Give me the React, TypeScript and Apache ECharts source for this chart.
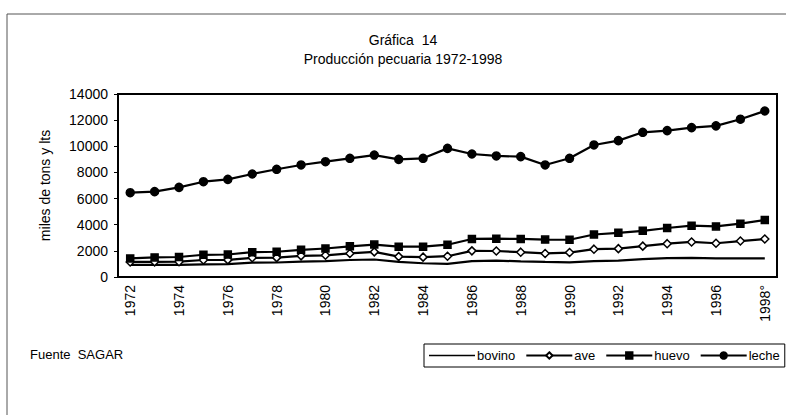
import React, { useEffect, useRef } from "react";
import * as echarts from "echarts";

const years = ["1972","1973","1974","1975","1976","1977","1978","1979","1980","1981","1982","1983","1984","1985","1986","1987","1988","1989","1990","1991","1992","1993","1994","1995","1996","1997","1998°"];
const bovino = [920, 920, 930, 970, 990, 1100, 1110, 1170, 1220, 1300, 1340, 1150, 1050, 1010, 1220, 1260, 1190, 1150, 1120, 1220, 1260, 1360, 1450, 1460, 1430, 1430, 1430];
const ave = [1150, 1160, 1170, 1300, 1310, 1470, 1480, 1620, 1660, 1800, 1920, 1560, 1520, 1590, 2000, 1990, 1900, 1800, 1870, 2130, 2170, 2360, 2550, 2680, 2580, 2750, 2910];
const huevo = [1420, 1500, 1530, 1700, 1720, 1900, 1930, 2080, 2180, 2350, 2480, 2320, 2320, 2470, 2910, 2930, 2910, 2860, 2850, 3250, 3380, 3530, 3750, 3930, 3870, 4080, 4360];
const leche = [6450, 6530, 6860, 7290, 7470, 7880, 8240, 8570, 8820, 9080, 9330, 9000, 9080, 9840, 9410, 9260, 9210, 8570, 9080, 10100, 10430, 11070, 11200, 11430, 11560, 12070, 12700];
const yTicks = { min: 0, max: 14000, interval: 2000 };
const titleLines = ["Gráfica  14", "Producción pecuaria 1972-1998"];
const yName = "miles de tons y lts";
const source = "Fuente  SAGAR";

const FONT = "'Liberation Sans', Arial, sans-serif";
const LINE_ICON = "path://M0,0 M46,8 M0,3.2 L46,3.2 L46,4.8 L0,4.8 Z";

export default function App() {
  const ref = useRef<HTMLDivElement>(null);
  useEffect(() => {
    if (!ref.current) return;
    const chart = echarts.init(ref.current, null, { renderer: "svg" });
    const mk = (name: string, data: number[], symbol: string, size: number, fill: string) => ({
      name,
      type: "line",
      data,
      symbol,
      symbolSize: size,
      showSymbol: symbol !== "none",
      lineStyle: { color: "#000", width: 2.2 },
      itemStyle: { color: fill, borderColor: "#000", borderWidth: 1.5 },
      emphasis: { disabled: true },
    });
    chart.setOption({
      animation: false,
      textStyle: { fontFamily: FONT, color: "#000" },
      title: {
        text: titleLines.join("\n"),
        left: 398,
        top: 25,
        textAlign: "center",
        textStyle: { fontFamily: FONT, fontSize: 14, fontWeight: "normal", color: "#000", lineHeight: 19 },
      },
      grid: {
        left: 118,
        right: 9,
        top: 94,
        bottom: 138,
        show: true,
        borderColor: "#000",
        borderWidth: 2,
        backgroundColor: "transparent",
      },
      legend: {
        left: 424,
        top: 344,
        itemWidth: 46,
        itemHeight: 8,
        itemGap: 10,
        padding: [5, 5],
        borderColor: "#000",
        borderWidth: 1,
        textStyle: { fontFamily: FONT, fontSize: 13, color: "#000", padding: [0, 0, 0, -3] },
        data: [
          { name: "bovino", icon: LINE_ICON, itemStyle: { color: "#000", borderWidth: 0 } },
          { name: "ave" },
          { name: "huevo" },
          { name: "leche" },
        ],
      },
      xAxis: {
        type: "category",
        data: years,
        boundaryGap: true,
        axisLine: { lineStyle: { color: "#000", width: 2 } },
        axisTick: { interval: 0, length: 4, lineStyle: { color: "#000" } },
        axisLabel: { interval: 1, rotate: 90, fontSize: 14, color: "#000", fontFamily: FONT, margin: 8 },
        splitLine: { show: false },
      },
      yAxis: {
        type: "value",
        min: yTicks.min,
        max: yTicks.max,
        interval: yTicks.interval,
        name: yName,
        nameLocation: "middle",
        nameGap: 66,
        nameTextStyle: { fontSize: 14, color: "#000", fontFamily: FONT },
        axisLine: { show: true, lineStyle: { color: "#000", width: 2 } },
        axisTick: { show: true, length: 4, lineStyle: { color: "#000" } },
        axisLabel: { fontSize: 14, color: "#000", fontFamily: FONT, margin: 10, formatter: (v: number) => String(v) },
        splitLine: { show: false },
      },
      graphic: [
        {
          type: "polyline",
          shape: { points: [[7, 415], [7, 14], [786, 14]] },
          style: { stroke: "#555", lineWidth: 1, fill: "none" },
          silent: true,
        },
        {
          type: "text",
          left: 30,
          top: 348,
          style: { text: source, fontFamily: FONT, fontSize: 13, fill: "#000" },
          silent: true,
        },
      ],
      series: [
        mk("bovino", bovino, "none", 0, "#000"),
        mk("ave", ave, "diamond", 8, "#fff"),
        mk("huevo", huevo, "rect", 7, "#000"),
        mk("leche", leche, "circle", 8, "#000"),
      ],
    });
    return () => chart.dispose();
  }, []);
  return <div ref={ref} style={{ width: 786, height: 415, position: "absolute", left: 0, top: 0 }} />;
}
